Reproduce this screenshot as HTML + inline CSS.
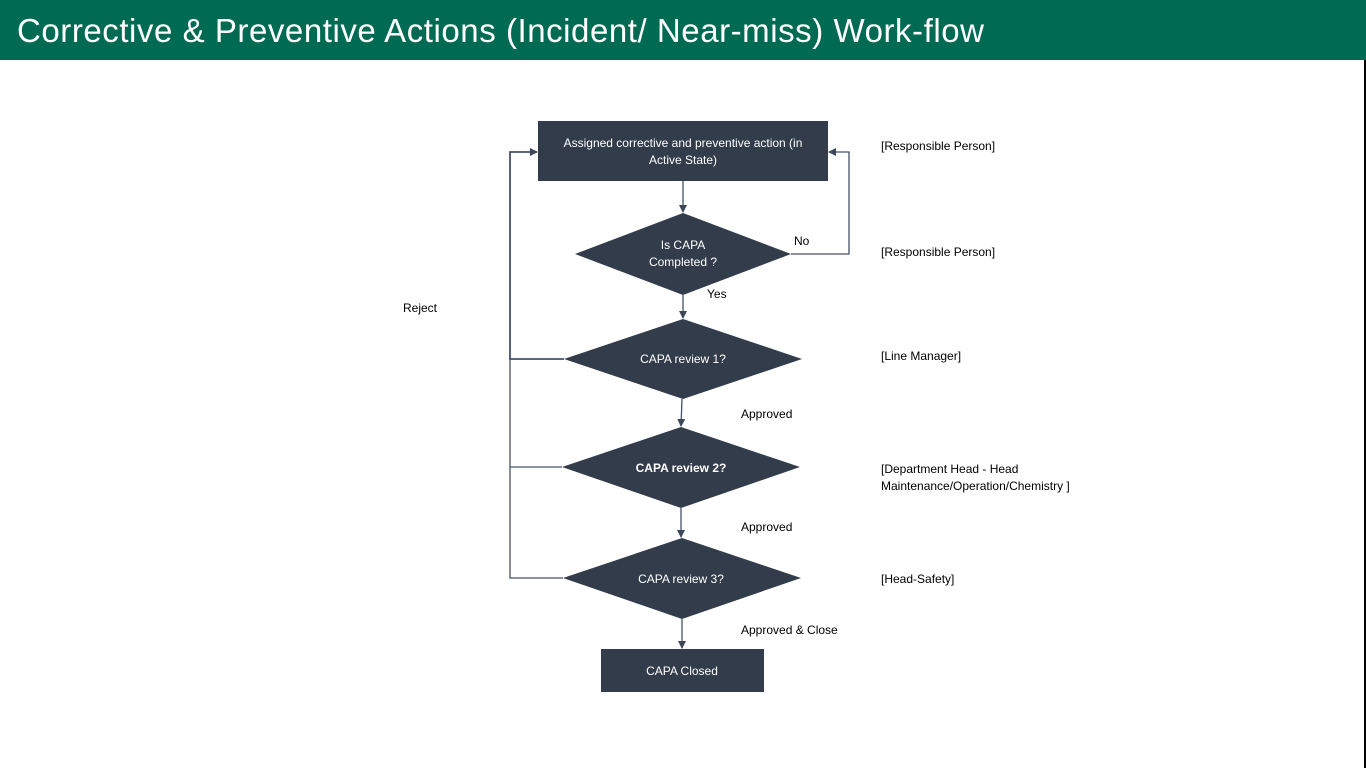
<!DOCTYPE html>
<html><head><meta charset="utf-8"><style>
body{margin:0;width:1366px;height:768px;background:#fff;overflow:hidden;font-family:"Liberation Sans",sans-serif;position:relative}
.h{position:absolute;left:0;top:0;width:1366px;height:60px;background:#006b52;color:#fff;font-size:33px;line-height:62px;padding-left:17px;box-sizing:border-box;letter-spacing:0.55px}
.bar{position:absolute;right:0;top:60px;width:2px;height:708px;background:#000}
</style></head><body>
<div class="h">Corrective &amp; Preventive Actions (Incident/ Near-miss) Work-flow</div>
<div class="bar"></div>
<svg width="1366" height="768" style="position:absolute;left:0;top:0" font-family="Liberation Sans, sans-serif" font-size="12">
<defs><marker id="a" markerWidth="8" markerHeight="8" refX="7" refY="4" orient="auto" markerUnits="userSpaceOnUse"><path d="M0,0 L8,4 L0,8z" fill="#3d4757"/></marker></defs>
<g stroke="#46506a" stroke-width="1.3" fill="none">
<line x1="683" y1="181" x2="683" y2="212" marker-end="url(#a)"/>
<line x1="683" y1="295" x2="683" y2="318" marker-end="url(#a)"/>
<line x1="682" y1="399" x2="681" y2="426" marker-end="url(#a)"/>
<line x1="681" y1="508" x2="681" y2="537" marker-end="url(#a)"/>
<line x1="682" y1="619" x2="682" y2="648" marker-end="url(#a)"/>
<polyline points="791,254 849,254 849,152 829,152" marker-end="url(#a)"/>
<polyline points="564,359 510,359 510,152 537,152" marker-end="url(#a)" stroke-width="1.8"/>
<polyline points="562,467 510,467"/>
<polyline points="563,578 510,578 510,359"/>
</g>
<g fill="#323c4a">
<rect x="538" y="121" width="290" height="60"/>
<polygon points="575,254 683,213 791,254 683,295"/>
<polygon points="564,359 683,319 802,359 683,399"/>
<polygon points="562,467 681,427 800,467 681,508"/>
<polygon points="563,578 682,538 801,578 682,619"/>
<rect x="601" y="649" width="163" height="43"/>
</g>
<g fill="#fff" text-anchor="middle">
<text x="683" y="147">Assigned corrective and preventive action (in</text>
<text x="683" y="164">Active State)</text>
<text x="683" y="249">Is CAPA</text>
<text x="683" y="266">Completed ?</text>
<text x="683" y="363">CAPA review 1?</text>
<text x="681" y="472" font-weight="bold">CAPA review 2?</text>
<text x="681" y="583">CAPA review 3?</text>
<text x="682" y="675">CAPA Closed</text>
</g>
<g fill="#000">
<text x="794" y="245">No</text>
<text x="707" y="298">Yes</text>
<text x="403" y="312">Reject</text>
<text x="741" y="418">Approved</text>
<text x="741" y="531">Approved</text>
<text x="741" y="634">Approved &amp; Close</text>
<text x="881" y="150">[Responsible Person]</text>
<text x="881" y="256">[Responsible Person]</text>
<text x="881" y="360">[Line Manager]</text>
<text x="881" y="473">[Department Head - Head</text>
<text x="881" y="490">Maintenance/Operation/Chemistry ]</text>
<text x="881" y="583">[Head-Safety]</text>
</g>
</svg>
</body></html>
